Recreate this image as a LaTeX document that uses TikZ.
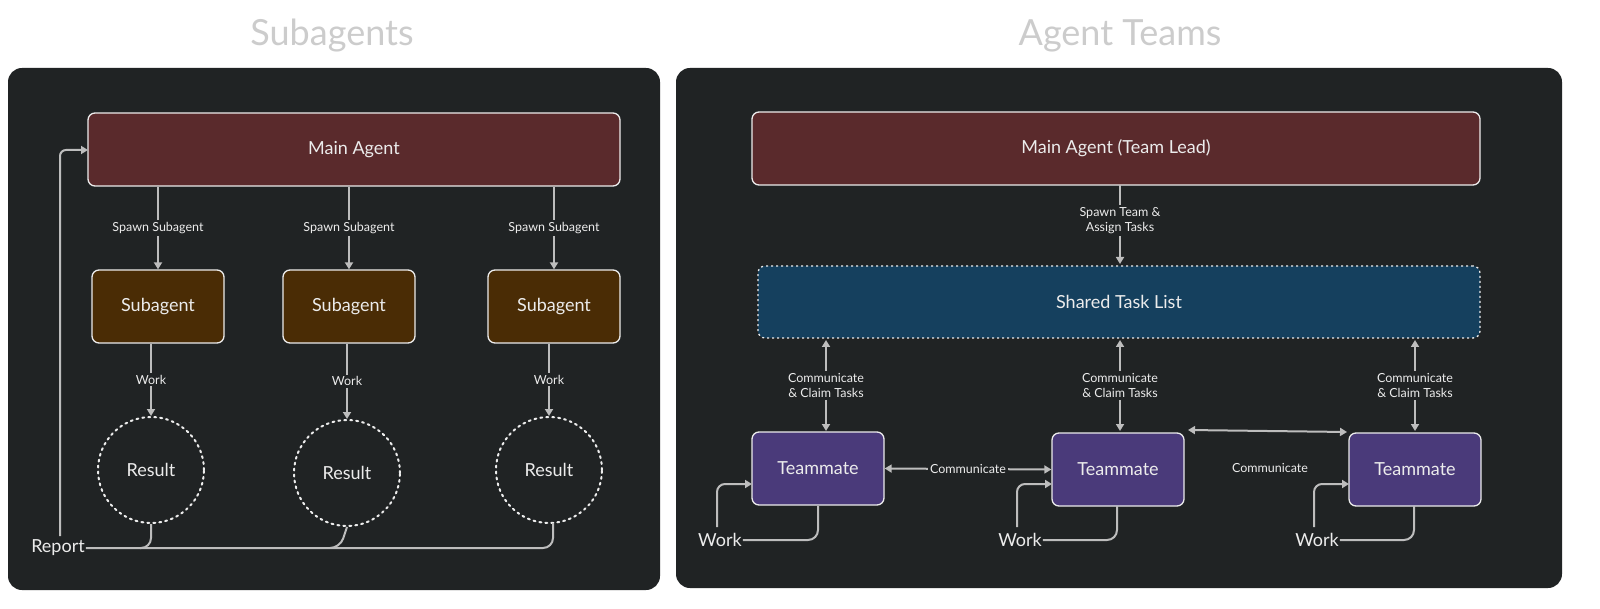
\documentclass[tikz,border=0pt]{standalone}
\usepackage{fontspec}
\setmainfont{Lato}
\usetikzlibrary{arrows.meta}
\definecolor{panel}{HTML}{202324}
\definecolor{redb}{HTML}{5A2A2C}
\definecolor{brownb}{HTML}{4A2C05}
\definecolor{blueb}{HTML}{15405E}
\definecolor{purpb}{HTML}{4A3A7A}
\definecolor{ln}{HTML}{BDBDBD}
\definecolor{tx}{HTML}{ECECEC}
\begin{document}
\begin{tikzpicture}[x=1pt,y=-1pt,
  box/.style={draw=tx,line width=1.3pt,rounded corners=7pt,text=tx,font=\fontsize{18}{18}\selectfont,inner sep=0},
  arr/.style={draw=ln,line width=2pt,-{Triangle[length=7pt,width=8pt]}},
  darr/.style={draw=ln,line width=2pt,{Triangle[length=7pt,width=8pt]}-{Triangle[length=7pt,width=8pt]}},
  lnk/.style={draw=ln,line width=2pt,rounded corners=10pt},
  lab/.style={text=tx,font=\fontsize{12.5}{15}\selectfont,fill=panel,inner sep=2pt,align=center},
  title/.style={text=black!20,font=\fontsize{36}{36}\selectfont}]
\fill[white] (0,0) rectangle (1600,609);
\fill[panel,rounded corners=14pt] (8,68) rectangle (660,590);
\fill[panel,rounded corners=14pt] (676,68) rectangle (1562,588);
\node[title] (t1) at (332,36) {Subagents};
\node[title] (t2) at (1120,36) {Agent Teams};
% left
\node[box,fill=redb,minimum width=532pt,minimum height=73pt] (ma) at (354,149.5) {Main Agent};
\foreach \i/\x in {1/158,2/349,3/554}{
  \node[box,fill=brownb,minimum width=132pt,minimum height=73pt] (s\i) at (\x,306.5) {Subagent};
}
\tikzset{res/.style={circle,draw=tx,line width=2pt,dash pattern=on 2pt off 4pt,line cap=round,minimum size=106pt,text=tx,font=\fontsize{18}{18}\selectfont}}
\node[res] (r1) at (151,470) {Result};
\node[res] (r2) at (347,473) {Result};
\node[res] (r3) at (549,470) {Result};
\foreach \i in {1,2,3}{
  \draw[arr] (ma.south -| s\i) -- (s\i.north) node[lab,pos=0.5] {Spawn Subagent};
  \draw[arr] (s\i.south -| r\i) -- (r\i.north) node[lab,pos=0.5] {Work};
}
\node[text=tx,font=\fontsize{18}{18}\selectfont,inner sep=1pt] (rep) at (58,548) {Report};
\coordinate (e3) at (553,523);
\draw[lnk] (rep.east) -- (553,548) -- (e3);
\draw[lnk] (r1.south) -- (151,548) -- (140,548);
\draw[lnk] (r2.south) -- (340,548) -- (330,548);
\coordinate (rp) at (60,536);
\draw[arr,rounded corners=6pt] (rp) -- (60,150) -- (88,150);
% right
\node[box,fill=redb,minimum width=728pt,minimum height=73pt] (mt) at (1116,148.5) {Main Agent (Team Lead)};
\node[box,fill=blueb,dash pattern=on 2pt off 3pt,minimum width=722pt,minimum height=72pt] (tl) at (1119,302) {Shared Task List};
\node[box,fill=purpb,minimum width=132pt,minimum height=73pt] (m1) at (818,468.5) {Teammate};
\node[box,fill=purpb,minimum width=132pt,minimum height=73pt] (m2) at (1118,469.5) {Teammate};
\node[box,fill=purpb,minimum width=132pt,minimum height=73pt] (m3) at (1415,469.5) {Teammate};
\draw[arr] (1120,185) -- (1120,264) node[lab,pos=0.45] {Spawn Team \&\\Assign Tasks};
\foreach \i/\x in {1/826,2/1120,3/1415}{
  \draw[darr] (\x,340) -- (\x,431) node[lab,pos=0.5] {Communicate\\\& Claim Tasks};
}
\draw[darr] (m1.east) -- (m2.west) node[lab,pos=0.5] {Communicate};
\draw[darr] (1188,430) -- (1347,432);
\node[lab] (c2) at (1270,468) {Communicate};
\foreach \i/\x/\w in {1/720/818,2/1020/1117,3/1317/1414}{
  \node[text=tx,font=\fontsize{18}{18}\selectfont,inner sep=1pt] (w\i) at (\x,540) {Work};
  \draw[lnk] (w\i.east) -- (\w,540) -- (\w,506);
  \draw[arr,rounded corners=8pt] (\x-3,527) -- (\x-3,484) -- (\x+32,484);
}
\pgfresetboundingbox
\path[use as bounding box] (0,0) rectangle (1600,609);
\end{tikzpicture}
\end{document}
